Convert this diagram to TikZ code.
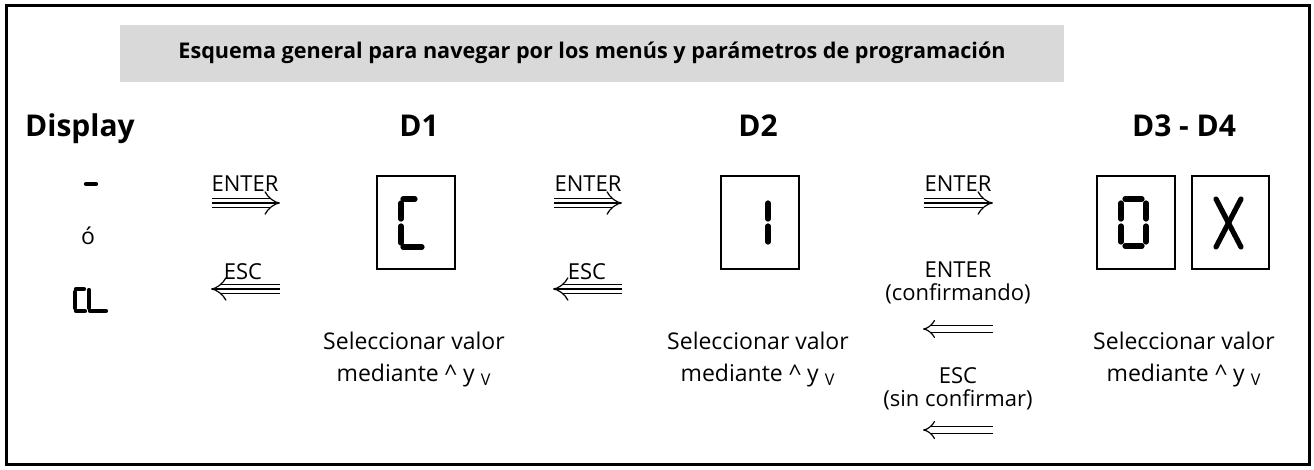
\documentclass[tikz,border=0pt]{standalone}
\usepackage{fontspec}
\setmainfont{Open Sans}
\usetikzlibrary{arrows.meta}
\begin{document}
\begin{tikzpicture}[x=0.5pt,y=-0.5pt,
  heading/.style={font=\bfseries\fontsize{15}{17}\selectfont, inner sep=0, anchor=base},
  titletext/.style={font=\bfseries\fontsize{10.8}{12}\selectfont, inner sep=0},
  body/.style={font=\fontsize{11.5}{16.3}\selectfont, inner sep=0, anchor=base, align=center},
  lbl/.style={font=\fontsize{11}{11.8}\selectfont, inner sep=0, anchor=base, align=center},
  lcdbox/.style={draw, line width=0.9pt},
  seg/.style={line width=2.6pt, line cap=round},
  smallseg/.style={line width=2.1pt, line cap=round},
  tri/.style={double, double distance=3.6pt, line width=0.6pt, -{Implies}},
  trimid/.style={line width=0.6pt},
  dbl/.style={double, double distance=2.6pt, line width=0.6pt, -{Implies}}
]
\useasboundingbox (0,0) rectangle (1314,470);
% outer frame
\draw[line width=1.5pt] (6,6) rectangle (1309,465);
% title
\fill[gray!30] (120,25) rectangle (1064,82);
\node[titletext] (title) at (592,53) {Esquema general para navegar por los menús y parámetros de programación};
% headings
\node[heading] (hdisp) at (80,137) {Display};
\node[heading] (hd1) at (419,137) {D1};
\node[heading] (hd2) at (758,137) {D2};
\node[heading] (hd34) at (1184,137) {D3 - D4};
% left column
\draw[smallseg] (86,184) -- (96,184);
\node[body] (o) at (88,245) {ó};
\draw[smallseg] (76,289) -- (84,289);
\draw[smallseg] (75,292) -- (75,308);
\draw[smallseg] (76,311) -- (85,311);
\draw[smallseg] (89,290) -- (89,308);
\draw[smallseg] (90,311) -- (106,311);
% boxes
\node[lcdbox, minimum width=39pt, minimum height=46.5pt, inner sep=0] (d1) at (416,222.5) {};
\node[lcdbox, minimum width=39pt, minimum height=46.5pt, inner sep=0] (d2) at (760,222.5) {};
\node[lcdbox, minimum width=39pt, minimum height=46.5pt, inner sep=0] (d3) at (1136,222.5) {};
\node[lcdbox, minimum width=38.5pt, minimum height=46.5pt, inner sep=0] (d4) at (1230.5,222.5) {};
% digit C
\draw[seg] (403,199) -- (415,199);
\draw[seg] (401,203) -- (401,219);
\draw[seg] (401,226) -- (401,243);
\draw[seg] (403,247) -- (422,247);
% digit 1
\draw[seg] (768,203) -- (768,219);
\draw[seg] (768,226) -- (768,242);
% digit 0
\draw[seg] (1125,199) -- (1142,199);
\draw[seg] (1121,203) -- (1121,219);
\draw[seg] (1121,226) -- (1121,242);
\draw[seg] (1146,203) -- (1146,219);
\draw[seg] (1146,226) -- (1146,242);
\draw[seg] (1125,246) -- (1142,246);
% digit X
\draw[seg] (1216,199) -- (1241,247);
\draw[seg] (1241,199) -- (1216,247);
% column 1 arrows
\node[lbl] (e1) at (245,192) {ENTER};
\coordinate (e1a) at (212,203); \coordinate (e1b) at (280,203);
\draw[tri] (e1a) -- (e1b); \draw[trimid] (e1a) -- ([xshift=-2pt]e1b);
\node[lbl] (s1) at (243,280) {ESC};
\coordinate (s1a) at (280,289); \coordinate (s1b) at (211,289);
\draw[tri] (s1a) -- (s1b); \draw[trimid] (s1a) -- ([xshift=2pt]s1b);
% column 2 arrows
\node[lbl] (e2) at (588,192) {ENTER};
\coordinate (e2a) at (554,203); \coordinate (e2b) at (622,203);
\draw[tri] (e2a) -- (e2b); \draw[trimid] (e2a) -- ([xshift=-2pt]e2b);
\node[lbl] (s2) at (587,280) {ESC};
\coordinate (s2a) at (622,289); \coordinate (s2b) at (553,289);
\draw[tri] (s2a) -- (s2b); \draw[trimid] (s2a) -- ([xshift=2pt]s2b);
% column 3 arrows
\node[lbl] (e3) at (958,192) {ENTER};
\coordinate (e3a) at (924,203); \coordinate (e3b) at (993,203);
\draw[tri] (e3a) -- (e3b); \draw[trimid] (e3a) -- ([xshift=-2pt]e3b);
\node[lbl] (c3) at (958,301) {ENTER\\(confirmando)};
\coordinate (c3a) at (993,329); \coordinate (c3b) at (923,329);
\draw[dbl] (c3a) -- (c3b);
\node[lbl] (n3) at (958,407) {ESC\\(sin confirmar)};
\coordinate (n3a) at (993,430); \coordinate (n3b) at (923,430);
\draw[dbl] (n3a) -- (n3b);
% captions
\node[body] (t1) at (414,382) {Seleccionar valor\\mediante \textasciicircum{} y \textsubscript{V}};
\node[body] (t2) at (758,382) {Seleccionar valor\\mediante \textasciicircum{} y \textsubscript{V}};
\node[body] (t3) at (1184,382) {Seleccionar valor\\mediante \textasciicircum{} y \textsubscript{V}};
\end{tikzpicture}
\end{document}
